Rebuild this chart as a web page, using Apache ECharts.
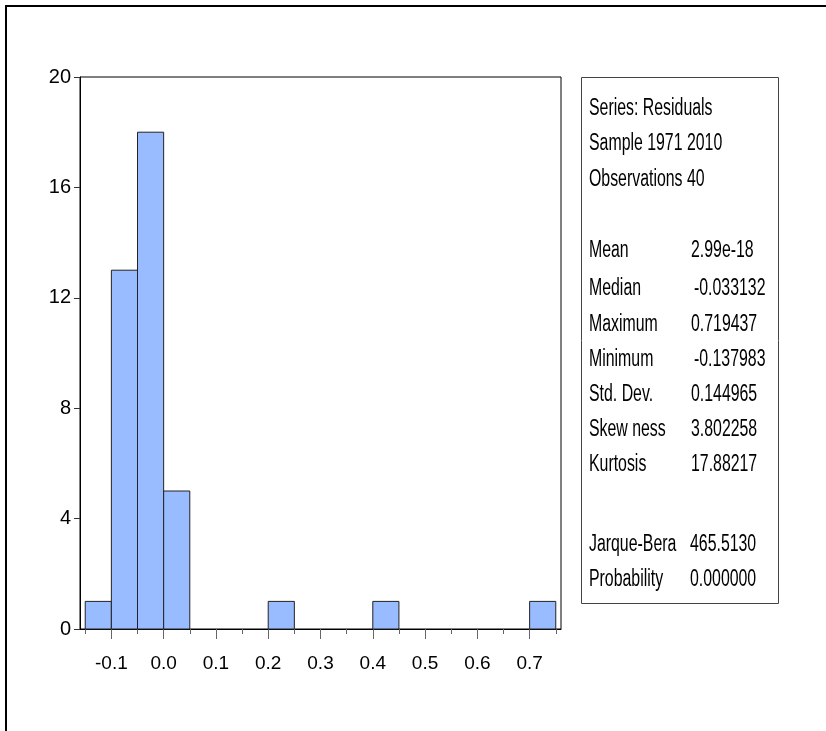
<!DOCTYPE html>
<html>
<head>
<meta charset="utf-8">
<title>Residuals histogram</title>
<script src="https://cdn.jsdelivr.net/npm/echarts@6/dist/echarts.min.js"></script>
<style>
  html, body { margin: 0; padding: 0; background: #fff; }
  #chart { width: 826px; height: 731px; }
</style>
</head>
<body>
<div id="chart"></div>
<script>
// Histogram bins (lower edge of each 0.05-wide bin) and observation counts
const binWidth = 0.05;
const binStarts = [-0.15, -0.10, -0.05, 0.00, 0.05, 0.10, 0.15, 0.20, 0.25,
                   0.30, 0.35, 0.40, 0.45, 0.50, 0.55, 0.60, 0.65, 0.70];
const counts    = [1, 13, 18, 5, 0, 0, 0, 1, 0,
                   0, 0, 1, 0, 0, 0, 0, 0, 1];

// Axis ticks
const xMajorTicks = [-0.1, 0.0, 0.1, 0.2, 0.3, 0.4, 0.5, 0.6, 0.7];
const xMinorTicks = [-0.15, -0.05, 0.05, 0.15, 0.25, 0.35, 0.45, 0.55, 0.65, 0.75];

// Descriptive statistics panel
const statsHeader = ['Series: Residuals', 'Sample 1971 2010', 'Observations 40'];
const statNames  = ['Mean', 'Median', 'Maximum', 'Minimum', 'Std. Dev.', 'Skew ness', 'Kurtosis'];
const statValues = ['2.99e-18', '-0.033132', '0.719437', '-0.137983', '0.144965', '3.802258', '17.88217'];
const testNames  = ['Jarque-Bera', 'Probability'];
const testValues = ['465.5130', '0.000000'];

const FONT = '"Liberation Sans", Arial, sans-serif';
const PANEL_FONT_SIZE = 23;
const PANEL_SCALE_X = 0.69;   // condensed lettering in the statistics panel

const histData = binStarts.map((s, i) => [s, s + binWidth, counts[i]]);

const chart = echarts.init(document.getElementById('chart'), null, { renderer: 'canvas' });

// stats panel text elements
const statTexts = [];
const headerY = [109, 144, 180];
statsHeader.forEach((t, i) => statTexts.push({ text: t, x: 589, y: headerY[i] }));
const statY = [251, 289, 325, 360, 395, 430, 465];
statNames.forEach((t, i) => {
  statTexts.push({ text: t, x: 589, y: statY[i] });
  const v = statValues[i];
  statTexts.push({ text: v, x: v.startsWith('-') ? 694 : 691, y: statY[i] });
});
const testY = [545, 580];
testNames.forEach((t, i) => {
  statTexts.push({ text: t, x: 589, y: testY[i] });
  statTexts.push({ text: testValues[i], x: 690, y: testY[i] });
});

const option = {
  animation: false,
  backgroundColor: '#fff',
  grid: {
    left: 80, top: 77, right: 265, bottom: 102,
    show: true, borderColor: '#000', borderWidth: 1, backgroundColor: 'transparent'
  },
  xAxis: [
    {
      type: 'value', min: -0.16, max: 0.76,
      axisLine: { show: true, onZero: false, lineStyle: { color: '#000', width: 1 } },
      axisTick: { show: true, length: 10, customValues: xMajorTicks, lineStyle: { color: '#666' } },
      axisLabel: {
        show: true, customValues: xMajorTicks, margin: 25,
        formatter: v => v.toFixed(1),
        color: '#000', fontFamily: FONT, fontSize: 19
      },
      splitLine: { show: false }
    },
    {
      type: 'value', min: -0.16, max: 0.76, position: 'bottom',
      axisLine: { show: false },
      axisTick: { show: true, length: 5, customValues: xMinorTicks, lineStyle: { color: '#666' } },
      axisLabel: { show: false },
      splitLine: { show: false }
    }
  ],
  yAxis: {
    type: 'value', min: 0, max: 20, interval: 4,
    axisLine: { show: true, onZero: false, lineStyle: { color: '#000', width: 1 } },
    axisTick: { show: true, length: 6, lineStyle: { color: '#333' } },
    axisLabel: { color: '#000', fontFamily: FONT, fontSize: 20, margin: 9 },
    splitLine: { show: false }
  },
  series: [{
    type: 'custom',
    xAxisIndex: 0,
    data: histData,
    renderItem: function (params, api) {
      const h = api.value(2);
      if (!h) return null;
      const p0 = api.coord([api.value(0), 0]);
      const p1 = api.coord([api.value(1), h]);
      return {
        type: 'rect',
        shape: { x: p0[0], y: p1[1], width: p1[0] - p0[0], height: p0[1] - p1[1] },
        style: { fill: '#99bbff', stroke: '#222', lineWidth: 1 }
      };
    }
  }],
  graphic: [
    // outer frame (top and left edges)
    {
      type: 'polyline', silent: true,
      shape: { points: [[6, 731], [6, 6], [826, 6]] },
      style: { stroke: '#000', lineWidth: 2, fill: null }
    },
    // statistics panel
    {
      type: 'rect', silent: true,
      shape: { x: 581.5, y: 77.5, width: 197, height: 526 },
      style: { fill: '#fff', stroke: '#444', lineWidth: 1 }
    },
    ...statTexts.map(t => ({
      type: 'text', silent: true, x: t.x, y: t.y, scaleX: PANEL_SCALE_X,
      style: {
        text: t.text, fill: '#000', font: PANEL_FONT_SIZE + 'px ' + FONT,
        textAlign: 'left', textVerticalAlign: 'middle'
      }
    }))
  ]
};

chart.setOption(option);
</script>
</body>
</html>
